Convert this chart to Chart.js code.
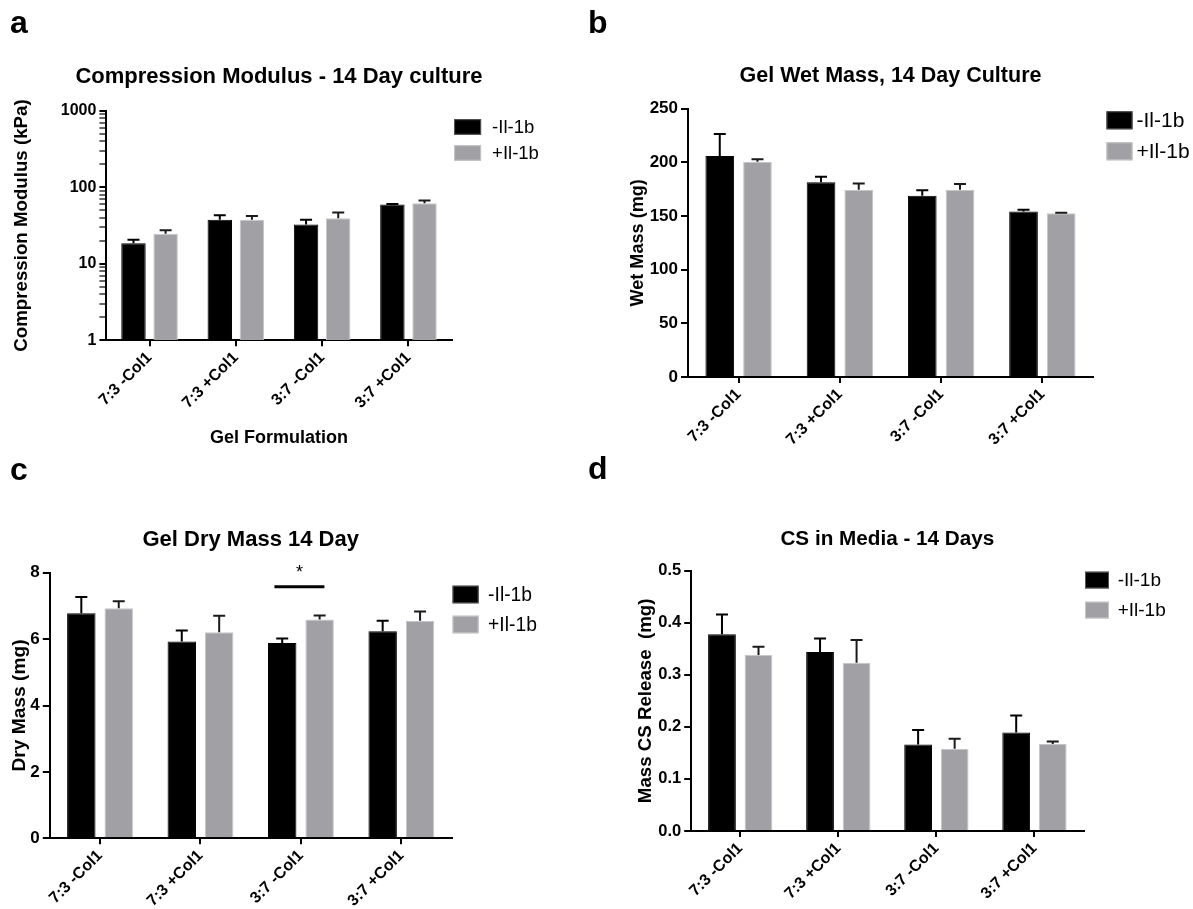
<!DOCTYPE html>
<html>
<head>
  <title>Gel culture - 14 day panels</title>
  <script src="https://cdn.jsdelivr.net/npm/chart.js"></script>
  <style>
    body { margin: 0; background: #fff; }
    #wrap { position: relative; width: 1193px; height: 909px; }
    canvas { position: absolute; left: 0; top: 0; }
    .tag { position: absolute; font: bold 32px/32px "Liberation Sans", Arial, sans-serif; color: #000; }
  </style>
</head>
<body>
  <div id="wrap">
    <canvas id="chartA" width="1193" height="909"></canvas>
    <canvas id="chartB" width="1193" height="909"></canvas>
    <canvas id="chartC" width="1193" height="909"></canvas>
    <canvas id="chartD" width="1193" height="909"></canvas>
    <div class="tag" style="left:10px;top:6px">a</div>
    <div class="tag" style="left:588px;top:6px">b</div>
    <div class="tag" style="left:10px;top:453px">c</div>
    <div class="tag" style="left:588px;top:452px">d</div>
  </div>

  <script>
    const categories = ['7:3 -Col1', '7:3 +Col1', '3:7 -Col1', '3:7 +Col1'];
    const seriesNames = ['-Il-1b', '+Il-1b'];

    // a - compression modulus (kPa), log axis
    const modulusMinus = [18.6, 37.5, 32.5, 59.3];
    const modulusMinusSd = [2.0, 5.7, 5.0, 1.3];
    const modulusPlus = [24.6, 37.5, 39.4, 61.9];
    const modulusPlusSd = [2.9, 4.7, 7.2, 5.0];
    const logLabels = [1, 10, 100, 1000];

    // b - wet mass (mg)
    const wetMinus = [205.9, 181.4, 168.9, 154.3];
    const wetMinusSd = [20.5, 5.2, 5.0, 1.5];
    const wetPlus = [200.6, 174.5, 174.5, 152.5];
    const wetPlusSd = [2.4, 5.9, 5.3, 0.5];

    // c - dry mass (mg)
    const dryMinus = [6.78, 5.93, 5.88, 6.24];
    const dryMinusSd = [0.49, 0.33, 0.14, 0.31];
    const dryPlus = [6.93, 6.21, 6.59, 6.55];
    const dryPlusSd = [0.21, 0.49, 0.12, 0.28];
    const drySig = [{ category: '3:7 -Col1', level: 7.58, text: '*' }];

    // d - CS released into media (mg)
    const csMinus = [0.378, 0.344, 0.166, 0.189];
    const csMinusSd = [0.038, 0.026, 0.028, 0.033];
    const csPlus = [0.338, 0.323, 0.158, 0.167];
    const csPlusSd = [0.016, 0.044, 0.019, 0.005];

    const FONT = '"Liberation Sans", Arial, sans-serif';
    Chart.defaults.font.family = FONT;
    Chart.defaults.color = '#000';

    // one-sided SD bars on top of each bar
    const errorBars = {
      id: 'errorBars',
      afterDatasetsDraw(chart) {
        const ctx = chart.ctx, y = chart.scales.y;
        chart.data.datasets.forEach((ds, i) => {
          chart.getDatasetMeta(i).data.forEach((bar, j) => {
            const top = y.getPixelForValue(ds.data[j] + ds.errors[j]);
            ctx.save();
            ctx.strokeStyle = ds.errorColor;
            ctx.lineWidth = 2;
            ctx.beginPath();
            ctx.moveTo(bar.x, bar.y);
            ctx.lineTo(bar.x, top);
            ctx.moveTo(bar.x - 6, top);
            ctx.lineTo(bar.x + 6, top);
            ctx.stroke();
            ctx.restore();
          });
        });
      }
    };

    // title centred over the plot area, free to run past its edges
    const panelTitle = {
      id: 'panelTitle',
      afterDraw(chart, args, o) {
        const { ctx, chartArea } = chart;
        ctx.save();
        ctx.fillStyle = '#000';
        ctx.font = 'bold ' + o.size + 'px ' + FONT;
        ctx.textAlign = 'center';
        ctx.textBaseline = 'middle';
        ctx.fillText(o.text, (chartArea.left + chartArea.right) / 2, chartArea.top - o.rise);
        ctx.restore();
      }
    };

    const panelLegend = {
      id: 'panelLegend',
      afterDraw(chart, args, o) {
        const { ctx, chartArea } = chart;
        ctx.save();
        chart.data.datasets.forEach((ds, i) => {
          const x = chartArea.right + o.dx;
          const y = chartArea.top + o.dy + i * o.pitch;
          ctx.fillStyle = ds.backgroundColor;
          ctx.fillRect(x, y, o.boxW, o.boxH);
          ctx.strokeStyle = ds.legendBorder;
          ctx.lineWidth = 1;
          ctx.strokeRect(x + 0.5, y + 0.5, o.boxW - 1, o.boxH - 1);
          ctx.fillStyle = '#000';
          ctx.font = o.fontSize + 'px ' + FONT;
          ctx.textAlign = 'left';
          ctx.textBaseline = 'middle';
          ctx.fillText(ds.label, x + o.boxW + o.gap, y + o.boxH / 2 + 1);
        });
        ctx.restore();
      }
    };

    const sigMarks = {
      id: 'sigMarks',
      afterDatasetsDraw(chart, args, o) {
        if (!o.items) return;
        const { ctx, scales: { x, y } } = chart;
        o.items.forEach(m => {
          const cx = x.getPixelForValue(categories.indexOf(m.category)) - 1.5;
          const ly = y.getPixelForValue(m.level);
          ctx.save();
          ctx.strokeStyle = '#000';
          ctx.lineWidth = 3;
          ctx.beginPath();
          ctx.moveTo(cx - 25, ly);
          ctx.lineTo(cx + 25, ly);
          ctx.stroke();
          ctx.fillStyle = '#000';
          ctx.font = '18px ' + FONT;
          ctx.textAlign = 'center';
          ctx.textBaseline = 'alphabetic';
          ctx.fillText(m.text, cx, ly - 9);
          ctx.restore();
        });
      }
    };

    function panel(id, o) {
      const axisGrid = len => ({
        display: true, drawOnChartArea: false, drawTicks: true, tickLength: len,
        color: '#000', lineWidth: 2, offset: false
      });
      const yAxis = {
        type: o.log ? 'logarithmic' : 'linear',
        min: o.min, max: o.max,
        grid: axisGrid(7),
        border: { display: true, color: '#000', width: 2 },
        ticks: {
          color: '#000', font: { size: o.tickSize, weight: 'bold' }, padding: 3, autoSkip: false,
          stepSize: o.step,
          callback: o.tickFmt
        },
        title: {
          display: true, text: o.yTitle, color: '#000',
          font: { size: o.yTitleSize, weight: 'bold' }, padding: { top: o.yTitlePad, bottom: 0 }
        },
        afterFit: s => { s.width = o.yWidth; s.paddingTop = 0; s.paddingBottom = 0; }
      };
      if (o.log) {
        yAxis.afterBuildTicks = s => {
          s.ticks = s.ticks.filter(t => {
            const m = t.value / Math.pow(10, Math.floor(Math.log10(t.value) + 1e-9));
            return Math.abs(m - Math.round(m)) < 1e-6;
          });
        };
        yAxis.grid.tickWidth = c => (logLabels.includes(c.tick && c.tick.value) ? 2 : 1.2);
      }
      return new Chart(document.getElementById(id), {
        type: 'bar',
        data: {
          labels: categories,
          datasets: [
            {
              label: seriesNames[0], data: o.minus, errors: o.minusSd,
              backgroundColor: '#000', borderColor: '#000', borderWidth: 1,
              legendBorder: '#555', errorColor: '#000',
              categoryPercentage: 0.745, barPercentage: 0.76
            },
            {
              label: seriesNames[1], data: o.plus, errors: o.plusSd,
              backgroundColor: '#a1a1a5', borderColor: '#c6c6c8', borderWidth: 1,
              legendBorder: '#c6c6c8', errorColor: '#1a1a1a',
              categoryPercentage: 0.745, barPercentage: 0.76
            }
          ]
        },
        options: {
          responsive: false,
          animation: false,
          events: [],
          layout: { padding: o.pad },
          plugins: {
            legend: { display: false },
            tooltip: { enabled: false },
            title: { display: false },
            panelTitle: o.title,
            panelLegend: o.legend,
            sigMarks: { items: o.sig || null }
          },
          scales: {
            x: {
              offset: true,
              grid: axisGrid(6),
              border: { display: true, color: '#000', width: 2 },
              ticks: {
                color: '#000', font: { size: 16, weight: 'bold' },
                maxRotation: 45, minRotation: 45, padding: 2, autoSkip: false
              },
              title: {
                display: !!o.xTitle, text: o.xTitle || '', color: '#000',
                font: { size: 18, weight: 'bold' }, padding: { top: 0, bottom: 5 }
              },
              afterFit: s => { s.height = o.xHeight; s.paddingLeft = 0; s.paddingRight = 0; }
            },
            y: yAxis
          }
        },
        plugins: [errorBars, panelTitle, panelLegend, sigMarks]
      });
    }

    panel('chartA', {
      minus: modulusMinus, minusSd: modulusMinusSd, plus: modulusPlus, plusSd: modulusPlusSd,
      log: true, min: 1, max: 1000, tickSize: 16,
      tickFmt: v => (logLabels.includes(v) ? String(v) : ''),
      title: { text: 'Compression Modulus - 14 Day culture', size: 22, rise: 33.7 },
      yTitle: 'Compression Modulus (kPa)', yTitleSize: 18.7, yTitlePad: 10.3, yWidth: 106.4,
      xTitle: 'Gel Formulation', xHeight: 113.7,
      pad: { left: 0, top: 110.7, right: 741.4, bottom: 455 },
      legend: { dx: 2.5, dy: 8.5, boxW: 27, boxH: 15.5, pitch: 26, gap: 11, fontSize: 18.5 }
    });

    panel('chartB', {
      minus: wetMinus, minusSd: wetMinusSd, plus: wetPlus, plusSd: wetPlusSd,
      min: 0, max: 250, step: 50, tickSize: 17,
      title: { text: 'Gel Wet Mass, 14 Day Culture', size: 21.5, rise: 32.7 },
      yTitle: 'Wet Mass (mg)', yTitleSize: 18.1, yTitlePad: 7.1, yWidth: 68,
      xHeight: 77,
      pad: { left: 620, top: 108.7, right: 100, bottom: 455 },
      legend: { dx: 13.5, dy: 2.6, boxW: 26, boxH: 18, pitch: 31, gap: 4, fontSize: 21 }
    });

    panel('chartC', {
      minus: dryMinus, minusSd: dryMinusSd, plus: dryPlus, plusSd: dryPlusSd,
      min: 0, max: 8, step: 2, tickSize: 17,
      title: { text: 'Gel Dry Mass 14 Day', size: 22, rise: 32.7 },
      yTitle: 'Dry Mass (mg)', yTitleSize: 19.2, yTitlePad: 8, yWidth: 49.8,
      xHeight: 70.7,
      pad: { left: 0, top: 572.7, right: 741.4, bottom: 0 },
      legend: { dx: 1, dy: 13, boxW: 26, boxH: 17.6, pitch: 30, gap: 9.5, fontSize: 19.3 },
      sig: drySig
    });

    panel('chartD', {
      minus: csMinus, minusSd: csMinusSd, plus: csPlus, plusSd: csPlusSd,
      min: 0, max: 0.5, step: 0.1, tickSize: 16.5,
      tickFmt: v => v.toFixed(1),
      title: { text: 'CS in Media - 14 Days', size: 20.7, rise: 31.7 },
      yTitle: 'Mass CS Release  (mg)', yTitleSize: 18.7, yTitlePad: 9.5, yWidth: 66.2,
      xHeight: 78,
      pad: { left: 625, top: 570.7, right: 109.5, bottom: 0 },
      legend: { dx: 1.5, dy: 1, boxW: 24, boxH: 16.7, pitch: 30, gap: 8.7, fontSize: 19 }
    });
  </script>
</body>
</html>
